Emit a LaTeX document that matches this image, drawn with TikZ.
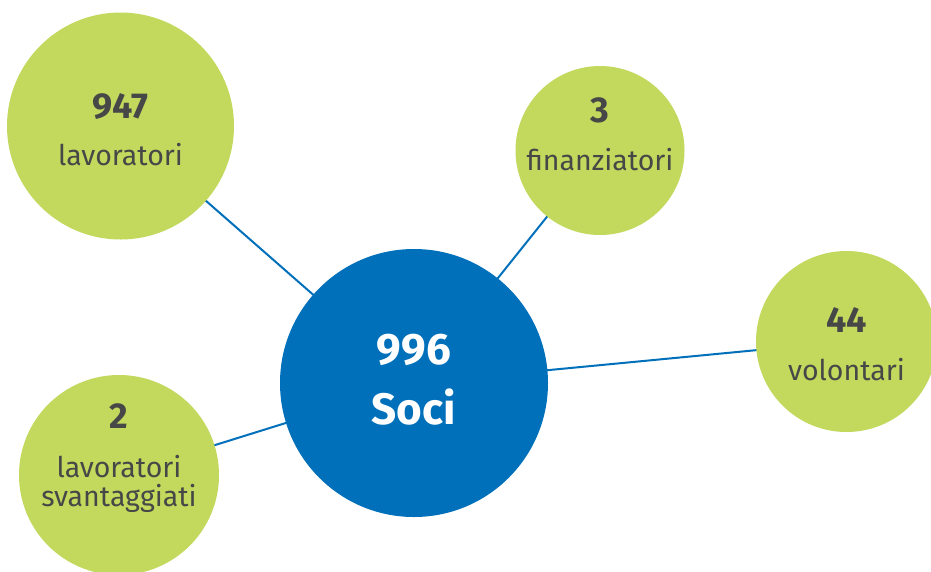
\documentclass[tikz,border=0pt]{standalone}
\usepackage{fontspec}
\setmainfont{Fira Sans}
\definecolor{cgreen}{HTML}{C2D95D}
\definecolor{cblue}{HTML}{0070BA}
\definecolor{ctext}{HTML}{474747}
\tikzset{
  green disc/.style={circle, fill=cgreen, inner sep=0pt},
  blue disc/.style={circle, fill=cblue, inner sep=0pt},
  link/.style={draw=cblue, line width=2pt},
  numtext/.style={anchor=base, text=ctext, font=\fontsize{36}{38}\selectfont\bfseries, inner sep=0pt},
  labtext/.style={anchor=base, text=ctext, font=\fontsize{28.5}{30}\selectfont, inner sep=0pt},
  centertext/.style={anchor=base, text=white, font=\fontsize{44}{46}\selectfont\bfseries, inner sep=0pt}
}
\begin{document}
\begin{tikzpicture}[x=1pt,y=-1pt]
\useasboundingbox (0,0) rectangle (931,571);
\fill[white] (0,0) rectangle (931,571);
% positions
\coordinate (cC) at (414,383);
\coordinate (cTL) at (120.5,126);
\coordinate (cTR) at (600,150.5);
\coordinate (cR) at (846.5,341.5);
\coordinate (cBL) at (119,475);
% connectors
\draw[link] (cC) -- (cTL);
\draw[link] (cC) -- (cTR);
\draw[link] (cC) -- (cR);
\draw[link] (cC) -- (cBL);
% discs
\node[green disc, minimum size=227pt] (tl) at (cTL) {};
\node[green disc, minimum size=169pt] (tr) at (cTR) {};
\node[green disc, minimum size=181pt] (r) at (cR) {};
\node[green disc, minimum size=200pt] (bl) at (cBL) {};
\node[blue disc, minimum size=268pt] (c) at (cC) {};
% texts
\node[numtext] (tln) at (120.5,118) {947};
\node[labtext] (tll) at (120.5,165) {lavoratori};
\node[numtext] (trn) at (600,122) {3};
\node[labtext] (trl) at (600,170) {finanziatori};
\node[numtext] (rn) at (846.5,332) {44};
\node[labtext] (rl) at (846.5,380) {volontari};
\node[numtext] (bln) at (119,428) {2};
\node[labtext] (bll1) at (119,477) {lavoratori};
\node[labtext] (bll2) at (119,506) {svantaggiati};
\node[centertext] (cn) at (414,364) {996};
\node[centertext] (cl) at (414,424) {Soci};
\end{tikzpicture}
\end{document}
